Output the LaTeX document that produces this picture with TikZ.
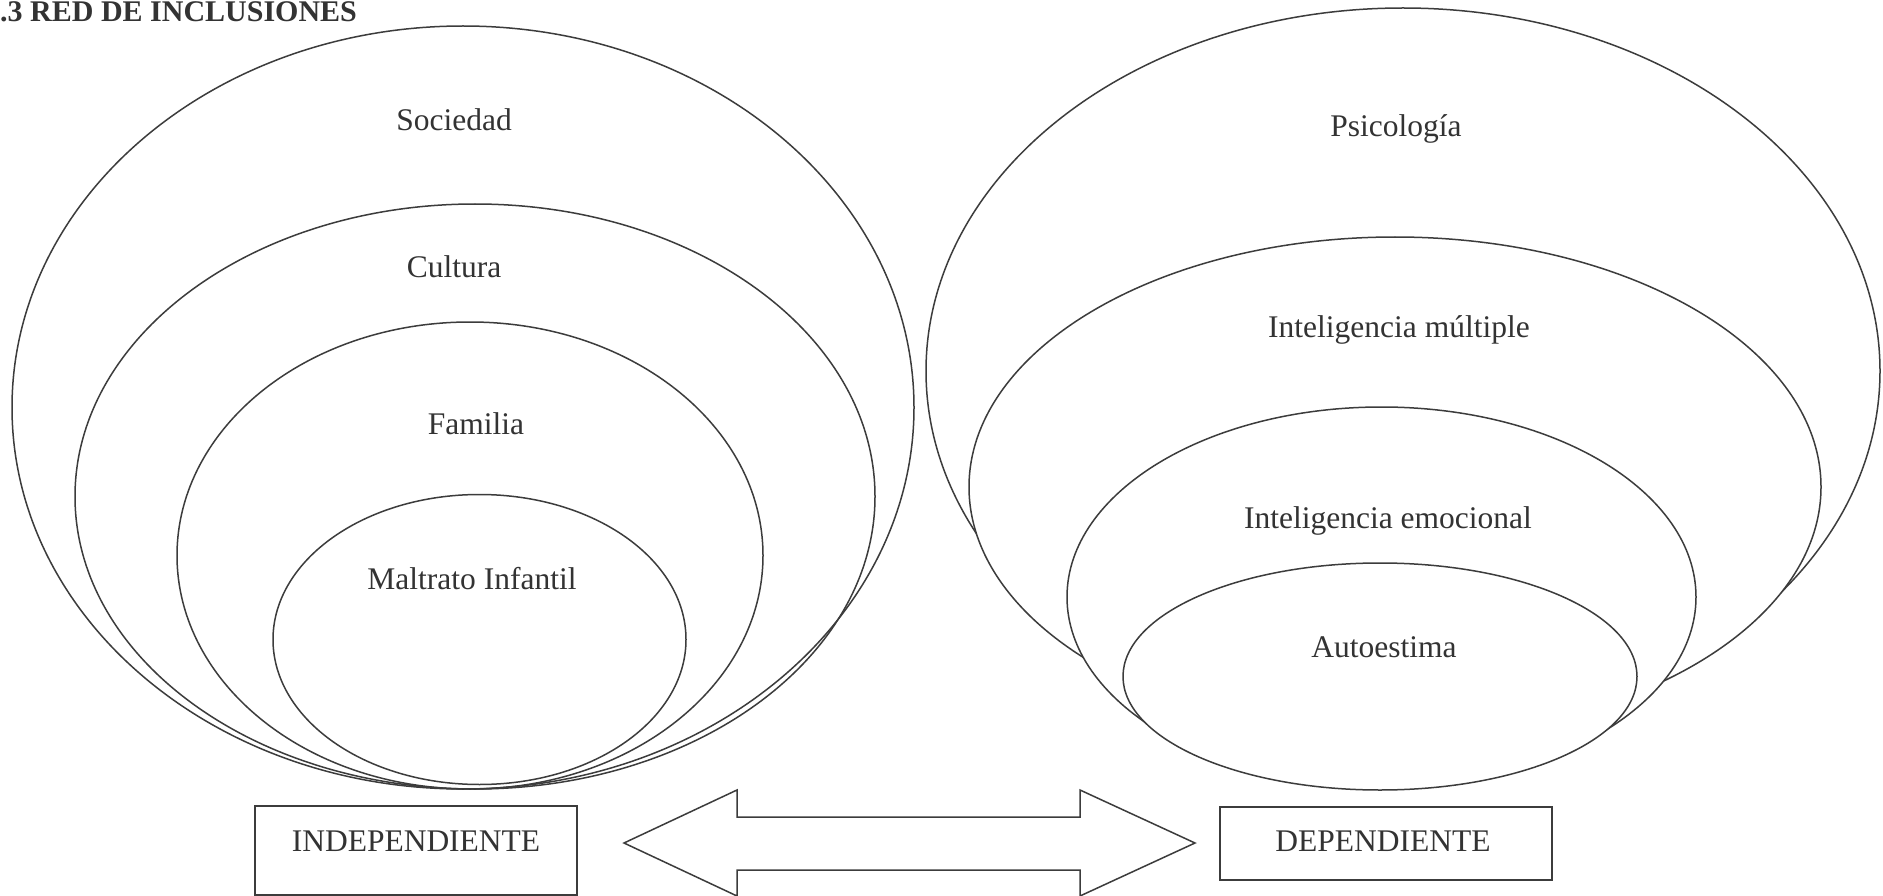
\documentclass[tikz,border=0pt]{standalone}
\usepackage{fontspec}
\setmainfont{Liberation Serif}
\usetikzlibrary{shapes.geometric}
\definecolor{ink}{HTML}{3C3C3C}
\definecolor{txt}{HTML}{333333}
\begin{document}
\begin{tikzpicture}[x=1pt,y=-1pt,
  ringL/.style={draw=ink, line width=1.5pt, ellipse, inner sep=0pt, outer sep=0pt},
  ringR/.style={ringL, fill=white},
  lbl/.style={text=txt, font=\fontsize{31.5}{36}\selectfont, anchor=base, inner sep=0pt},
  varbox/.style={draw=ink, line width=1.5pt, rectangle, inner sep=0pt},
  bigarrow/.style={draw=ink, line width=1.5pt, fill=white, line join=miter}]
\useasboundingbox (0,0) rectangle (1883,896);
\fill[white] (0,0) rectangle (1883,896);

% title
\node[anchor=base west, inner sep=0pt, text=txt, font=\bfseries\fontsize{30}{36}\selectfont] (title) at (0,22) {.3 RED DE INCLUSIONES};

% left group (independent variable)
\node[ringL, minimum width=902pt, minimum height=763pt] (soc) at (463,407.5) {};
\node[ringL, minimum width=800pt, minimum height=585pt] (cul) at (475,496.5) {};
\node[ringL, minimum width=586pt, minimum height=467pt] (fam) at (470,555.5) {};
\node[ringL, minimum width=413pt, minimum height=290pt] (mal) at (479.5,639.5) {};
\node[lbl] (tsoc) at (454,131) {Sociedad};
\node[lbl] (tcul) at (454,278) {Cultura};
\node[lbl] (tfam) at (476,434) {Familia};
\node[lbl] (tmal) at (472,589) {Maltrato Infantil};

% right group (dependent variable)
\node[ringR, minimum width=954pt, minimum height=726pt] (psi) at (1403,371) {};
\node[ringR, minimum width=852pt, minimum height=500pt] (mul) at (1395,487) {};
\node[ringR, minimum width=629pt, minimum height=380pt] (emo) at (1381.5,597) {};
\node[ringR, minimum width=514pt, minimum height=227pt] (aut) at (1380,676.5) {};
\node[lbl] (tpsi) at (1396,137) {Psicología};
\node[lbl] (tmul) at (1399,337) {Inteligencia múltiple};
\node[lbl] (temo) at (1388,528) {Inteligencia emocional};
\node[lbl] (taut) at (1384,657) {Autoestima};

% variable boxes
\node[varbox, minimum width=322pt, minimum height=89pt] (indep) at (416,850.5) {};
\node[lbl] (tindep) at (416,851) {INDEPENDIENTE};
\node[varbox, minimum width=332pt, minimum height=73pt] (dep) at (1386,843.5) {};
\node[lbl] (tdep) at (1383,851) {DEPENDIENTE};

% double block arrow between the boxes
\coordinate (aL) at (624,843);
\coordinate (aR) at (1195,843);
\draw[bigarrow] (aL) -- ++(113,-53) -- ++(0,27) -- ++(343,0) -- ++(0,-27)
  -- (aR) -- ++(-115,53) -- ++(0,-26) -- ++(-343,0) -- ++(0,26) -- cycle;
\end{tikzpicture}
\end{document}
